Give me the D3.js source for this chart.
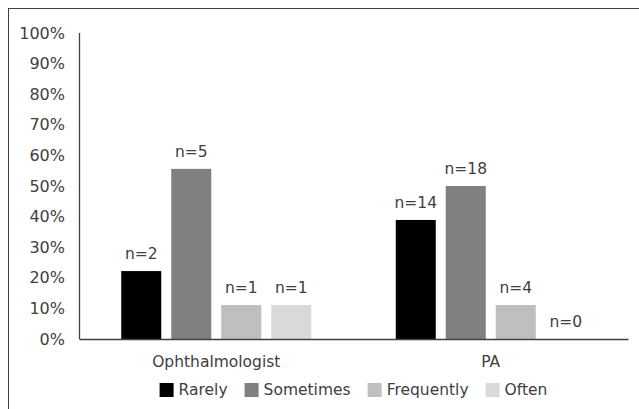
<!DOCTYPE html>
<html>
<head>
<meta charset="utf-8">
<script src="https://cdn.jsdelivr.net/npm/d3@7/dist/d3.min.js"></script>
<style>
  html, body { margin: 0; padding: 0; background: #fff; }
  svg { display: block; }
  text { font-family: "DejaVu Sans", sans-serif; fill: #404040; }
</style>
</head>
<body>
<svg id="chart" width="639" height="409"></svg>
<script>
// ---- data ----
const categories = ["Ophthalmologist", "PA"];
const seriesNames = ["Rarely", "Sometimes", "Frequently", "Often"];
const seriesColors = ["#000000", "#808080", "#bfbfbf", "#d9d9d9"];
// percentage values per series (Ophthalmologist, PA)
const rarely     = [22.2, 38.9];
const sometimes  = [55.6, 50.0];
const frequently = [11.1, 11.1];
const often      = [11.1, 0.0];
// counts shown as data labels
const rarelyN     = [2, 14];
const sometimesN  = [5, 18];
const frequentlyN = [1, 4];
const oftenN      = [1, 0];
const yTicks = [0, 10, 20, 30, 40, 50, 60, 70, 80, 90, 100];

const seriesValues = [rarely, sometimes, frequently, often];
const seriesCounts = [rarelyN, sometimesN, frequentlyN, oftenN];

// ---- layout ----
const svg = d3.select("#chart");
const pL = 79, pR = 628, pT = 33, pB = 339;
const fs = "15.5px";

// outer border
svg.append("rect")
  .attr("x", 8.5).attr("y", 8.5)
  .attr("width", 700).attr("height", 500)
  .attr("fill", "none").attr("stroke", "#404040").attr("stroke-width", 1);

const x0 = d3.scaleBand().domain(categories).range([pL, pR]).padding(0);
const groupW = 200;
const x1 = d3.scaleBand().domain(seriesNames).range([0, groupW])
  .paddingInner(0.2).paddingOuter(0.1);
const y = d3.scaleLinear().domain([0, 100]).range([pB, pT]);

// y axis labels
const yAxis = d3.axisLeft(y).tickValues(yTicks).tickFormat(d => d + "%").tickSize(0).tickPadding(14);
const gy = svg.append("g").attr("transform", `translate(${pL},0)`).call(yAxis);
gy.select(".domain").remove();
gy.selectAll("text").style("font-size", "16px").style("font-family", "DejaVu Sans, sans-serif").attr("fill", "#404040");

// bars
const data = [];
categories.forEach((c, ci) => {
  seriesNames.forEach((s, si) => {
    data.push({ cat: c, ser: s, si, v: seriesValues[si][ci], n: seriesCounts[si][ci] });
  });
});

const groupOffset = (x0.bandwidth() - groupW) / 2;
svg.append("g").selectAll("rect").data(data).join("rect")
  .attr("x", d => x0(d.cat) + groupOffset + x1(d.ser))
  .attr("y", d => y(d.v))
  .attr("width", x1.bandwidth())
  .attr("height", d => y(0) - y(d.v))
  .attr("fill", d => seriesColors[d.si]);

// data labels
svg.append("g").selectAll("text").data(data).join("text")
  .attr("x", d => x0(d.cat) + groupOffset + x1(d.ser) + x1.bandwidth() / 2)
  .attr("y", d => y(d.v) - 12)
  .attr("text-anchor", "middle")
  .style("font-size", fs)
  .text(d => "n=" + d.n);

// axis lines
svg.append("line").attr("x1", pL + 0.5).attr("x2", pL + 0.5).attr("y1", pT).attr("y2", pB)
  .attr("stroke", "#404040").attr("stroke-width", 1.3);
const xAxis = d3.axisBottom(x0).tickSize(0).tickPadding(17);
const gx = svg.append("g").attr("transform", `translate(0,${pB})`).call(xAxis);
gx.select(".domain").attr("stroke", "#404040").attr("stroke-width", 1.3);
gx.selectAll("text").style("font-size", fs).style("font-family", "DejaVu Sans, sans-serif").attr("fill", "#404040");

// legend
const legend = svg.append("g");
const items = legend.selectAll("g").data(seriesNames).join("g");
items.append("rect").attr("width", 14).attr("height", 14).attr("y", -7)
  .attr("fill", (d, i) => seriesColors[i]);
items.append("text").attr("x", 19).attr("y", 0).attr("dy", "0.35em")
  .style("font-size", fs).text(d => d);
const gap = 17;
let cx = 0;
items.each(function () {
  const w = this.getBBox().width;
  d3.select(this).attr("transform", `translate(${cx},0)`);
  cx += w + gap;
});
const totalW = cx - gap;
legend.attr("transform", `translate(${(pL + pR) / 2 - totalW / 2},390)`);
</script>
</body>
</html>
